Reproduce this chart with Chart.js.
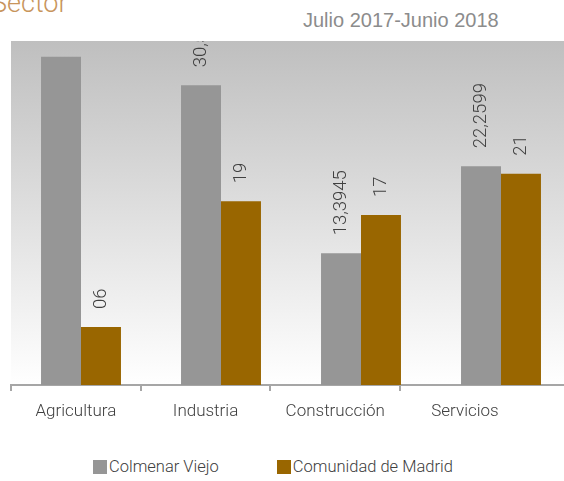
<!DOCTYPE html>
<html>
<head>
<meta charset="utf-8">
<script src="https://cdn.jsdelivr.net/npm/chart.js@4/dist/chart.umd.min.js"></script>
<style>
  html, body { margin: 0; padding: 0; background: #fff; overflow: hidden; }
  body { width: 564px; height: 481px; position: relative; }
  #titulo { position: absolute; left: -9px; top: -13px; font: 300 27px Roboto, sans-serif; color: #c8955c; }
  #periodo { position: absolute; left: 303px; top: 9px; font: 20px 'Liberation Sans', Arial, sans-serif; color: #8c8c8c; }
  #lienzo { position: absolute; left: 0; top: 0; }
  #leyenda { position: absolute; left: 93px; top: 457px; display: flex; font: 300 16.5px Roboto, sans-serif; color: #404040; }
  #leyenda span.item { display: flex; align-items: center; margin-right: 58px; }
  #leyenda span.caja { width: 14px; height: 14px; display: inline-block; margin-right: 2px; }
</style>
</head>
<body>
<div id="titulo">Sector</div>
<div id="periodo">Julio 2017-Junio 2018</div>
<canvas id="lienzo"></canvas>
<div id="leyenda"></div>
<script>
// Datos (porcentaje por sector)
const sectores = ['Agricultura', 'Industria', 'Construcción', 'Servicios']
const colmenar = [33.4, 30.5, 13.3945, 22.2599]
const madrid = [5.9, 18.7, 17.3, 21.5]
const etiquetasColmenar = ['33,4', '30,5', '13,3945', '22,2599']
const etiquetasMadrid = ['06', '19', '17', '21']
const series = ['Colmenar Viejo', 'Comunidad de Madrid']
const colores = ['#969696', '#996600']

const fuente = 'Roboto, sans-serif'

// fondo degradado del area de trazado
const fondo = {
  id: 'fondo',
  beforeDraw(chart) {
    const { ctx, chartArea: a } = chart
    const g = ctx.createLinearGradient(0, a.top, 0, a.bottom)
    g.addColorStop(0, '#bfbfbf')
    g.addColorStop(1, '#ffffff')
    ctx.save()
    ctx.fillStyle = g
    ctx.fillRect(a.left, a.top, a.right - a.left, a.bottom - a.top)
    ctx.restore()
  }
}

// etiquetas de valor giradas encima de cada barra
const etiquetas = {
  id: 'etiquetas',
  afterDatasetsDraw(chart) {
    const { ctx, chartArea: a } = chart
    const textos = [etiquetasColmenar, etiquetasMadrid]
    ctx.save()
    ctx.beginPath()
    ctx.rect(a.left, a.top, a.right - a.left, a.bottom - a.top)
    ctx.clip()
    ctx.fillStyle = '#404040'
    ctx.font = '300 18.5px ' + fuente
    ctx.textAlign = 'left'
    ctx.textBaseline = 'middle'
    chart.data.datasets.forEach((ds, i) => {
      chart.getDatasetMeta(i).data.forEach((bar, j) => {
        ctx.save()
        ctx.translate(bar.x, bar.y - 18)
        ctx.rotate(-Math.PI / 2)
        ctx.fillText(textos[i][j], 0, 0)
        ctx.restore()
      })
    })
    ctx.restore()
  }
}

const ANCHO_CATEGORIA = 129.7

const canvas = document.getElementById('lienzo')
canvas.width = 600
canvas.height = 440
canvas.style.width = '600px'
canvas.style.height = '440px'

const grafico = new Chart(canvas, {
  type: 'bar',
  data: {
    labels: sectores,
    datasets: [
      { label: series[0], data: colmenar, backgroundColor: colores[0], xAxisID: 'x' },
      { label: series[1], data: madrid, backgroundColor: colores[1], xAxisID: 'x' }
    ]
  },
  options: {
    responsive: false,
    animation: false,
    layout: { padding: { top: 41, left: 11, right: 29, bottom: 0 } },
    categoryPercentage: 0.571,
    barPercentage: 1.0,
    plugins: { legend: { display: false }, tooltip: { enabled: false } },
    scales: {
      x: { display: false },
      y: { display: false, min: 0, max: 35 },
      ejeX: {
        type: 'linear',
        position: 'bottom',
        offset: false,
        min: 0,
        max: 560 / ANCHO_CATEGORIA,
        afterBuildTicks: (eje) => {
          eje.ticks = [0, 0.5, 1, 1.5, 2, 2.5, 3, 3.5].map(v => ({ value: v }))
        },
        afterFit: (eje) => {
          eje.height = 55
          eje.paddingLeft = 0
          eje.paddingRight = 0
        },
        ticks: {
          autoSkip: false,
          maxRotation: 0,
          padding: 11,
          color: '#404040',
          font: { family: fuente, size: 17, weight: 300 },
          callback: (v) => Number.isInteger(v) ? '' : sectores[Math.floor(v)]
        },
        grid: {
          offset: false,
          drawOnChartArea: false,
          tickLength: 6,
          lineWidth: 2,
          color: (c) => (c.tick && Number.isInteger(c.tick.value)) ? '#a6a6a6' : 'rgba(0,0,0,0)'
        },
        border: { display: true, color: '#a6a6a6', width: 2 }
      }
    }
  },
  plugins: [fondo, etiquetas]
})

// leyenda en html
const leyenda = document.getElementById('leyenda')
grafico.data.datasets.forEach(ds => {
  const item = document.createElement('span')
  item.className = 'item'
  item.innerHTML = '<span class="caja" style="background:' + ds.backgroundColor + '"></span>' + ds.label
  leyenda.appendChild(item)
})
</script>
</body>
</html>
